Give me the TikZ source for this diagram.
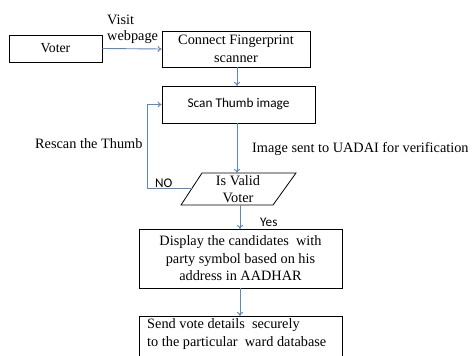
\documentclass[tikz,border=0pt]{standalone}
\usepackage{fontspec}
\setmainfont{Liberation Serif}
\newfontfamily\calib{Carlito}
\usetikzlibrary{arrows.meta}
\definecolor{flowblue}{HTML}{5B87C5}
\tikzset{
  procbox/.style={draw=black, line width=0.8pt, inner sep=0pt, align=center,
    font=\fontsize{14.3}{17.5}\selectfont},
  flow/.style={draw=flowblue, line width=0.9pt, -{To[length=4pt,width=6pt]}},
  lbl/.style={inner sep=0pt, font=\fontsize{14.3}{17}\selectfont, align=left},
  sanslbl/.style={inner sep=0pt, font=\calib\fontsize{13.2}{16}\selectfont}
}
\begin{document}
\begin{tikzpicture}[x=1pt, y=-1pt]
\useasboundingbox (0,0) rectangle (472,356);
\clip (0,0) rectangle (472,356);
\fill[white] (0,0) rectangle (472,356);

% process boxes
\node[procbox, minimum width=93pt, minimum height=27pt, font=\fontsize{13.8}{16}\selectfont]
  (voter) at (55.5,48.5) {Voter};
\node[procbox, minimum width=148pt, minimum height=36pt] (connect) at (236,49)
  {Connect Fingerprint\\scanner};
\node[procbox, minimum width=153pt, minimum height=37pt, font=\calib\fontsize{13.3}{16}\selectfont]
  (scan) at (238.5,104.5) {Scan Thumb image};

% decision parallelogram
\coordinate (ptl) at (202,173);
\coordinate (ptr) at (296,173);
\coordinate (pbr) at (273,205);
\coordinate (pbl) at (181,205);
\draw[black, line width=0.8pt] (ptl) -- (ptr) -- (pbr) -- (pbl) -- cycle;
\node[inner sep=0pt, minimum width=60pt, minimum height=32pt, align=center,
  font=\fontsize{14.3}{16.5}\selectfont] (valid) at (238,189) {Is Valid\\Voter};
\coordinate (pleft) at (192,188);

\node[procbox, minimum width=203pt, minimum height=59pt] (display) at (240.5,258.5)
  {Display the candidates \ with\\party symbol based on his\\address in AADHAR};
\node[procbox, minimum width=203pt, minimum height=54pt, anchor=north] (send) at (240.5,316) {};
\node[lbl, anchor=north west, font=\fontsize{14.3}{17.5}\selectfont] (sendtxt) at (147,318.5)
  {Send vote details \ securely\\to the particular \ ward database};

% connector end points
\coordinate (c1) at (237,67);
\coordinate (c2) at (237,86);
\coordinate (c3) at (237,123);
\coordinate (c4) at (237,173);
\coordinate (c5) at (240,205);
\coordinate (c6) at (240,229);
\coordinate (c7) at (240,288);
\coordinate (c8) at (240,316);
\coordinate (loopb) at (147,188);
\coordinate (loopt) at (147,104.5);

% connectors
\draw[flow] (voter.east) -- (connect.west);
\draw[flow] (c1) -- (c2);
\draw[flow] (c3) -- (c4);
\draw[flow] (pleft) -- (loopb) -- (loopt) -- (scan.west);
\draw[flow] (c5) -- (c6);
\draw[flow] (c7) -- (c8);

% labels
\node[lbl, anchor=west] (visit) at (107,20) {Visit};
\node[lbl, anchor=west] (webpage) at (107,37) {webpage};
\node[lbl, anchor=west] (rescan) at (35,144) {Rescan the Thumb};
\node[sanslbl, anchor=west] (no) at (155,183) {NO};
\node[lbl, anchor=west] (sent) at (252,149) {Image sent to UADAI for verification};
\node[sanslbl, anchor=west] (yes) at (260,222) {Yes};
\end{tikzpicture}
\end{document}
